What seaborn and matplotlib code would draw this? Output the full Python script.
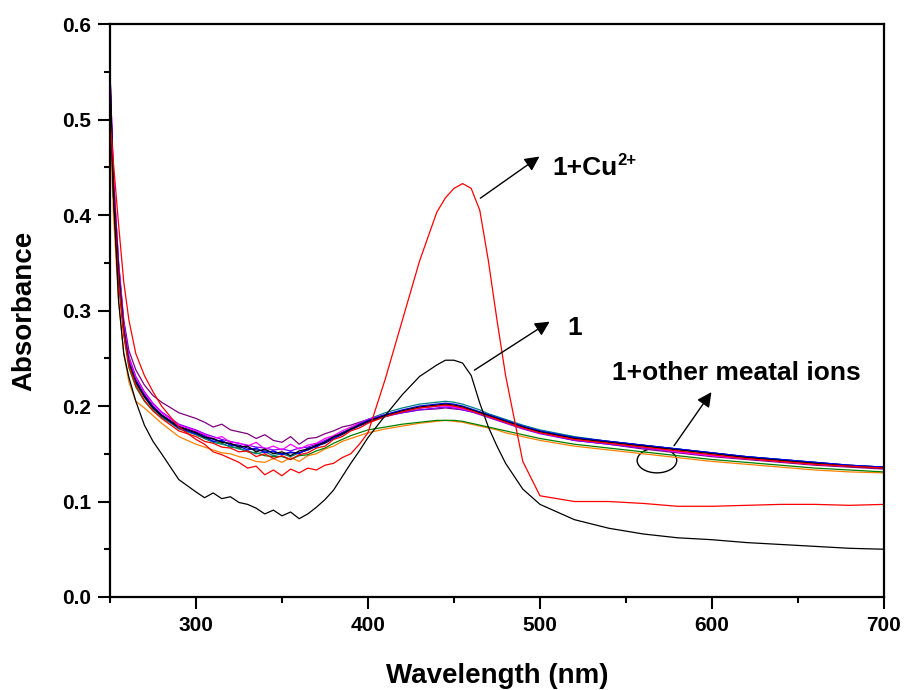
import pandas as pd
import seaborn as sns
import matplotlib.pyplot as plt
from matplotlib.patches import Ellipse

# wavelength grid (nm)
wavelength = [250, 252, 255, 258, 261, 265, 270, 275, 280, 290,
              300, 305, 310, 315, 320, 325, 330, 335, 340, 345,
              350, 355, 360, 365, 370, 375, 380, 385, 390, 395,
              400, 410, 420, 430, 440, 445, 450, 455, 460, 465,
              470, 475, 480, 490, 500, 520, 540, 560, 580, 600,
              620, 640, 660, 680, 700]

# free probe "1"
probe = [0.55, 0.42, 0.31, 0.255, 0.230, 0.205, 0.180, 0.163, 0.150, 0.123,
         0.110, 0.104, 0.109, 0.103, 0.105, 0.099, 0.097, 0.093, 0.087, 0.091,
         0.085, 0.089, 0.082, 0.087, 0.094, 0.102, 0.112, 0.126, 0.140, 0.153,
         0.167, 0.190, 0.212, 0.231, 0.243, 0.248, 0.248, 0.245, 0.232, 0.203,
         0.178, 0.158, 0.140, 0.113, 0.097, 0.081, 0.072, 0.066, 0.062, 0.060,
         0.057, 0.055, 0.053, 0.051, 0.050]

# 1 + Cu2+
probe_cu = [0.50, 0.455, 0.39, 0.33, 0.29, 0.255, 0.232, 0.215, 0.200, 0.178,
            0.165, 0.160, 0.152, 0.149, 0.145, 0.141, 0.135, 0.137, 0.128, 0.133,
            0.127, 0.134, 0.130, 0.135, 0.133, 0.138, 0.140, 0.146, 0.150, 0.160,
            0.172, 0.228, 0.290, 0.352, 0.403, 0.418, 0.428, 0.433, 0.428, 0.405,
            0.352, 0.290, 0.232, 0.142, 0.106, 0.100, 0.100, 0.098, 0.095, 0.095,
            0.096, 0.097, 0.097, 0.096, 0.097]

# 1 + other metal ions
ion_purple = [0.55, 0.44, 0.35, 0.29, 0.258, 0.238, 0.222, 0.211, 0.204, 0.193,
              0.187, 0.183, 0.178, 0.181, 0.175, 0.173, 0.171, 0.166, 0.170, 0.164,
              0.162, 0.168, 0.160, 0.166, 0.167, 0.171, 0.174, 0.178, 0.180, 0.183,
              0.186, 0.190, 0.193, 0.196, 0.197, 0.198, 0.197, 0.196, 0.194, 0.192,
              0.189, 0.186, 0.183, 0.177, 0.172, 0.164, 0.160, 0.155, 0.151, 0.147,
              0.144, 0.141, 0.138, 0.136, 0.134]
ion_black = [0.54, 0.43, 0.34, 0.28, 0.245, 0.225, 0.210, 0.198, 0.190, 0.178,
             0.172, 0.167, 0.166, 0.162, 0.161, 0.157, 0.158, 0.152, 0.155, 0.150,
             0.152, 0.148, 0.153, 0.155, 0.159, 0.162, 0.168, 0.171, 0.176, 0.180,
             0.184, 0.190, 0.195, 0.199, 0.201, 0.202, 0.201, 0.199, 0.196, 0.193,
             0.190, 0.187, 0.184, 0.178, 0.173, 0.166, 0.162, 0.158, 0.154, 0.150,
             0.146, 0.143, 0.140, 0.137, 0.135]
ion_blue = [0.54, 0.43, 0.34, 0.28, 0.246, 0.226, 0.210, 0.199, 0.190, 0.177,
            0.171, 0.168, 0.163, 0.164, 0.159, 0.158, 0.154, 0.156, 0.151, 0.153,
            0.149, 0.152, 0.150, 0.156, 0.157, 0.163, 0.166, 0.172, 0.175, 0.181,
            0.185, 0.191, 0.196, 0.200, 0.202, 0.203, 0.202, 0.200, 0.197, 0.194,
            0.191, 0.188, 0.185, 0.179, 0.174, 0.167, 0.163, 0.159, 0.155, 0.151,
            0.147, 0.144, 0.141, 0.138, 0.136]
ion_red = [0.53, 0.42, 0.33, 0.275, 0.242, 0.222, 0.206, 0.195, 0.187, 0.174,
           0.168, 0.163, 0.161, 0.157, 0.156, 0.152, 0.153, 0.147, 0.150, 0.145,
           0.148, 0.144, 0.149, 0.151, 0.156, 0.158, 0.165, 0.168, 0.174, 0.177,
           0.182, 0.189, 0.194, 0.198, 0.200, 0.201, 0.200, 0.198, 0.195, 0.192,
           0.189, 0.186, 0.183, 0.177, 0.172, 0.165, 0.161, 0.157, 0.153, 0.149,
           0.145, 0.142, 0.139, 0.137, 0.135]
ion_magenta = [0.55, 0.44, 0.345, 0.285, 0.25, 0.23, 0.214, 0.202, 0.193, 0.180,
               0.174, 0.170, 0.166, 0.168, 0.162, 0.161, 0.158, 0.162, 0.155, 0.158,
               0.154, 0.160, 0.155, 0.159, 0.161, 0.166, 0.169, 0.174, 0.178, 0.182,
               0.186, 0.191, 0.195, 0.198, 0.200, 0.200, 0.199, 0.197, 0.195, 0.192,
               0.189, 0.186, 0.183, 0.177, 0.172, 0.165, 0.161, 0.157, 0.152, 0.148,
               0.145, 0.142, 0.139, 0.137, 0.135]
ion_teal = [0.53, 0.42, 0.335, 0.278, 0.244, 0.224, 0.209, 0.197, 0.189, 0.176,
            0.170, 0.166, 0.162, 0.160, 0.158, 0.155, 0.153, 0.150, 0.152, 0.148,
            0.150, 0.147, 0.151, 0.154, 0.158, 0.162, 0.167, 0.172, 0.177, 0.182,
            0.186, 0.193, 0.198, 0.202, 0.204, 0.205, 0.204, 0.202, 0.199, 0.196,
            0.192, 0.189, 0.186, 0.180, 0.175, 0.168, 0.163, 0.159, 0.155, 0.151,
            0.147, 0.144, 0.141, 0.138, 0.136]
ion_navy = [0.54, 0.43, 0.34, 0.282, 0.248, 0.228, 0.212, 0.200, 0.191, 0.179,
            0.173, 0.169, 0.165, 0.163, 0.160, 0.159, 0.156, 0.154, 0.153, 0.152,
            0.150, 0.151, 0.151, 0.154, 0.158, 0.161, 0.166, 0.170, 0.175, 0.179,
            0.183, 0.189, 0.194, 0.198, 0.200, 0.201, 0.200, 0.198, 0.196, 0.193,
            0.190, 0.187, 0.184, 0.178, 0.173, 0.167, 0.163, 0.159, 0.155, 0.151,
            0.147, 0.144, 0.141, 0.138, 0.136]
ion_violet = [0.55, 0.44, 0.35, 0.287, 0.252, 0.231, 0.215, 0.203, 0.194, 0.181,
              0.175, 0.171, 0.168, 0.165, 0.163, 0.161, 0.159, 0.157, 0.156, 0.154,
              0.155, 0.153, 0.156, 0.157, 0.160, 0.164, 0.168, 0.172, 0.176, 0.180,
              0.184, 0.189, 0.193, 0.196, 0.198, 0.199, 0.198, 0.196, 0.194, 0.191,
              0.188, 0.185, 0.182, 0.176, 0.171, 0.164, 0.160, 0.156, 0.152, 0.148,
              0.145, 0.142, 0.139, 0.137, 0.135]
ion_green = [0.52, 0.42, 0.33, 0.275, 0.240, 0.220, 0.205, 0.195, 0.188, 0.177,
             0.170, 0.166, 0.163, 0.161, 0.157, 0.156, 0.152, 0.151, 0.148, 0.147,
             0.147, 0.144, 0.148, 0.149, 0.153, 0.156, 0.161, 0.165, 0.169, 0.172,
             0.175, 0.178, 0.181, 0.183, 0.185, 0.185, 0.185, 0.184, 0.182, 0.180,
             0.178, 0.176, 0.174, 0.170, 0.166, 0.160, 0.156, 0.152, 0.148, 0.144,
             0.141, 0.138, 0.135, 0.133, 0.131]
ion_orange = [0.50, 0.40, 0.31, 0.255, 0.225, 0.205, 0.198, 0.190, 0.182, 0.168,
              0.160, 0.157, 0.154, 0.151, 0.150, 0.147, 0.145, 0.142, 0.141, 0.145,
              0.141, 0.146, 0.142, 0.148, 0.150, 0.155, 0.158, 0.163, 0.166, 0.169,
              0.172, 0.176, 0.179, 0.182, 0.184, 0.185, 0.184, 0.183, 0.181, 0.179,
              0.177, 0.175, 0.172, 0.168, 0.164, 0.158, 0.154, 0.150, 0.146, 0.142,
              0.139, 0.136, 0.133, 0.131, 0.130]

series = {
    "ion_orange": (ion_orange, "#ff8000"),
    "ion_green": (ion_green, "#008000"),
    "ion_purple": (ion_purple, "#800080"),
    "ion_teal": (ion_teal, "#008080"),
    "ion_navy": (ion_navy, "#000080"),
    "ion_violet": (ion_violet, "#8000ff"),
    "ion_magenta": (ion_magenta, "#ff00ff"),
    "ion_blue": (ion_blue, "#0000ff"),
    "ion_black": (ion_black, "#000000"),
    "ion_red": (ion_red, "#ff0000"),
    "probe": (probe, "#000000"),
    "probe_cu": (probe_cu, "#ff0000"),
}

rows = []
for name, (vals, _) in series.items():
    for w, a in zip(wavelength, vals):
        rows.append({"wl": w, "abs": a, "sample": name})
df = pd.DataFrame(rows)
palette = {name: c for name, (_, c) in series.items()}

sns.set_style("ticks")
plt.rcParams['font.family'] = ['Liberation Sans', 'DejaVu Sans']
plt.rcParams['font.weight'] = 'bold'
plt.rcParams['text.color'] = 'black'
plt.rcParams['axes.labelcolor'] = 'black'
plt.rcParams['xtick.color'] = 'black'
plt.rcParams['ytick.color'] = 'black'
plt.rcParams['axes.edgecolor'] = 'black'

fig = plt.figure(figsize=(9.06, 6.9), dpi=100)
ax = fig.add_axes([0.1214, 0.1348, 0.8543, 0.8302])

sns.lineplot(data=df, x="wl", y="abs", hue="sample", hue_order=list(series.keys()),
             palette=palette, legend=False, linewidth=0.9, ax=ax)

ax.set_xlim(250, 700)
ax.set_ylim(0, 0.6)
ax.set_xticks([300, 400, 500, 600, 700])
ax.set_xticks([250, 350, 450, 550, 650], minor=True)
ax.set_yticks([0.0, 0.1, 0.2, 0.3, 0.4, 0.5, 0.6])
ax.set_yticks([0.05, 0.15, 0.25, 0.35, 0.45, 0.55], minor=True)
ax.set_yticklabels(["0.0", "0.1", "0.2", "0.3", "0.4", "0.5", "0.6"])
ax.tick_params(which="major", direction="out", length=8.5, width=1.5, labelsize=15, pad=5)
ax.tick_params(which="minor", direction="out", length=4.5, width=1.5)
for lab in ax.get_xticklabels() + ax.get_yticklabels():
    lab.set_fontweight("bold")
for s in ax.spines.values():
    s.set_linewidth(1.6)

ax.set_xlabel("Wavelength (nm)", fontsize=20, fontweight="bold", labelpad=20)
ax.set_ylabel("Absorbance", fontsize=20, fontweight="bold", labelpad=18)

arrow = dict(arrowstyle="-|>", color="black", lw=1, mutation_scale=22)
ax.annotate("", xy=(501, 0.463), xytext=(464, 0.416), arrowprops=arrow)
ax.annotate("", xy=(507, 0.290), xytext=(460.5, 0.236), arrowprops=arrow)
ax.annotate("", xy=(600.6, 0.217), xytext=(577, 0.156), arrowprops=arrow)
ax.add_patch(Ellipse((568, 0.143), 23, 0.026, fill=False, ec="black", lw=1))

cu_txt = ax.text(507, 0.442, "1+Cu", fontsize=19, fontweight="bold", ha="left", va="baseline")
ax.annotate("2+", xy=(1.0, 1.12), xycoords=cu_txt, fontsize=12, fontweight="bold",
            ha="left", va="top")
ax.text(516, 0.274, "1", fontsize=19, fontweight="bold", ha="left", va="baseline")
ax.text(542, 0.227, "1+other meatal ions", fontsize=19, fontweight="bold", ha="left", va="baseline")

plt.savefig("out.png", dpi=100)
